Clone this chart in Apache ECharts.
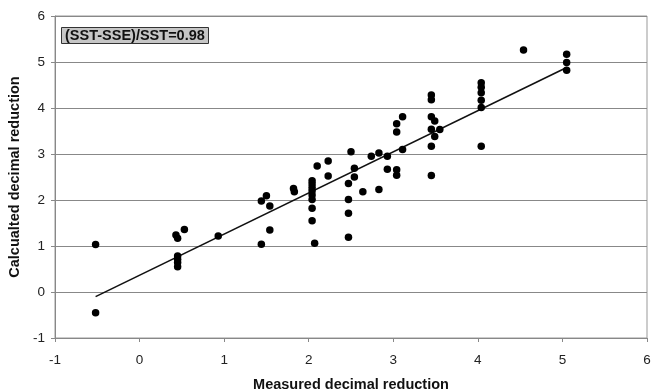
<!DOCTYPE html>
<html>
<head>
<meta charset="utf-8">
<script src="https://cdn.jsdelivr.net/npm/echarts@6/dist/echarts.min.js"></script>
<style>html,body{margin:0;padding:0;background:#fff}#c{width:651px;height:391px}</style>
</head>
<body>
<div id="c"></div>
<script>
const measured = [
  -0.52, -0.52,
  0.43, 0.45, 0.53, 0.93, 0.45, 0.45, 0.45, 0.45,
  1.44, 1.50, 1.54, 1.54, 1.44,
  1.82, 1.83,
  2.04, 2.04, 2.04, 2.04, 2.04, 2.04, 2.04, 2.04, 2.07,
  2.10, 2.23, 2.23,
  2.50, 2.54, 2.54, 2.47, 2.47, 2.47, 2.47,
  2.64, 2.74, 2.83, 2.93, 2.83, 2.93,
  3.04, 3.04, 3.04, 3.04, 3.11, 3.11,
  3.45, 3.45, 3.45, 3.45, 3.45, 3.45, 3.49, 3.55, 3.49,
  4.04, 4.04, 4.04, 4.04, 4.04, 4.04,
  4.54,
  5.05, 5.05, 5.05
];
const calculated = [
  1.03, -0.45,
  1.24, 1.17, 1.36, 1.22, 0.78, 0.71, 0.64, 0.55,
  1.98, 2.09, 1.87, 1.35, 1.04,
  2.25, 2.18,
  2.42, 2.35, 2.27, 2.20, 2.11, 2.01, 1.82, 1.55, 1.06,
  2.74, 2.85, 2.52,
  3.05, 2.69, 2.50, 2.36, 2.01, 1.71, 1.19,
  2.18, 2.95, 3.02, 2.95, 2.23, 2.67,
  2.66, 2.54, 3.48, 3.66, 3.81, 3.10,
  4.28, 4.18, 3.81, 3.54, 3.17, 2.53, 3.72, 3.53, 3.38,
  4.55, 4.45, 4.33, 4.17, 4.01, 3.17,
  5.26,
  5.17, 4.99, 4.82
];
const fitX = [-0.52, 5.05];
const fitY = [-0.10, 4.88];
const xTicks = [-1, 0, 1, 2, 3, 4, 5, 6];
const yTicks = [-1, 0, 1, 2, 3, 4, 5, 6];
const annotation = '(SST-SSE)/SST=0.98';

const pts = measured.map((x, i) => [x, calculated[i]]);
const fit = fitX.map((x, i) => [x, fitY[i]]);
const font = 'Arial, "Liberation Sans", sans-serif';

const chart = echarts.init(document.getElementById('c'), null, {renderer: 'canvas'});
chart.setOption({
  animation: false,
  backgroundColor: '#fff',
  title: {
    text: annotation,
    left: 61, top: 27,
    padding: [1, 4, 0, 4],
    backgroundColor: '#c6c6c6',
    borderColor: '#333',
    borderWidth: 1,
    textStyle: {fontFamily: font, fontSize: 14.5, fontWeight: 'bold', color: '#111', lineHeight: 16}
  },
  grid: {left: 55, right: 4, top: 16, bottom: 53, show: true, borderColor: '#999', borderWidth: 1,
         containLabel: false, outerBoundsMode: 'none'},
  xAxis: {
    type: 'value', min: xTicks[0], max: xTicks[xTicks.length - 1], interval: 1,
    name: 'Measured decimal reduction', nameLocation: 'middle', nameGap: 39,
    nameTextStyle: {fontFamily: font, fontSize: 14.5, fontWeight: 'bold', color: '#111'},
    axisLine: {onZero: false, lineStyle: {color: '#888', width: 1}},
    axisTick: {show: true, length: 4, lineStyle: {color: '#888'}},
    axisLabel: {fontFamily: font, fontSize: 13.5, color: '#222', margin: 15},
    splitLine: {show: false}
  },
  yAxis: {
    type: 'value', min: yTicks[0], max: yTicks[yTicks.length - 1], interval: 1,
    name: 'Calcualted decimal reduction', nameLocation: 'middle', nameGap: 30,
    nameTextStyle: {fontFamily: font, fontSize: 14.5, fontWeight: 'bold', color: '#111'},
    axisLine: {show: true, onZero: false, lineStyle: {color: '#888', width: 1}},
    axisTick: {show: true, length: 4, lineStyle: {color: '#888'}},
    axisLabel: {fontFamily: font, fontSize: 13.5, color: '#222', margin: 10},
    splitLine: {show: true, lineStyle: {color: '#888', width: 1}}
  },
  series: [
    {
      type: 'line', data: fit, symbol: 'none', z: 3,
      lineStyle: {color: '#111', width: 1.6}
    },
    {
      type: 'scatter', data: pts, symbol: 'circle', symbolSize: 7.5, z: 4,
      itemStyle: {color: '#000', opacity: 1}
    }
  ]
});
</script>
</body>
</html>
